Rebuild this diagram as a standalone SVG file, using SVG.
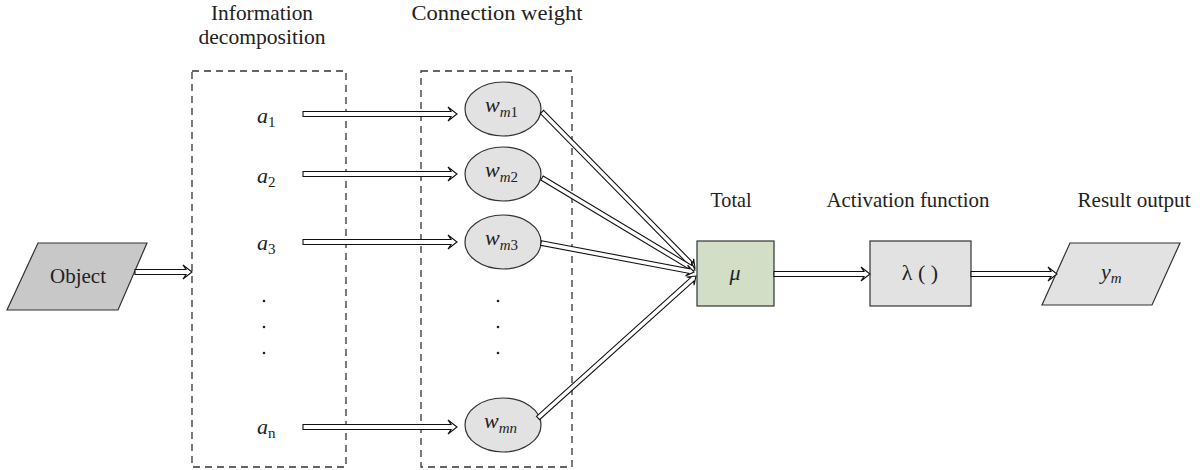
<svg xmlns="http://www.w3.org/2000/svg" width="1202" height="470" viewBox="0 0 1202 470">
<style>
.lbl{font-family:"Liberation Serif","Times New Roman",serif;font-size:21px;fill:#222;text-anchor:middle}
.var{font-family:"Liberation Serif","Times New Roman",serif;font-size:22px;fill:#222;font-style:italic}
.sub{font-size:15px}
.up{font-style:normal}
.dash{fill:none;stroke:#333;stroke-width:1.3;stroke-dasharray:7,5}
.ell{fill:#e2e2e2;stroke:#333;stroke-width:1.2}
.arr{fill:#fff;stroke:#111;stroke-width:1.1;stroke-linejoin:miter}
.dot{fill:#222}
</style>
<rect width="1202" height="470" fill="#fff"/>

<g id="labels">
<text class="lbl" x="262" y="20" textLength="102" lengthAdjust="spacingAndGlyphs">Information</text>
<text class="lbl" x="262" y="44" textLength="127" lengthAdjust="spacingAndGlyphs">decomposition</text>
<text class="lbl" x="497" y="20" textLength="171" lengthAdjust="spacingAndGlyphs">Connection weight</text>
<text class="lbl" x="731" y="207" textLength="41" lengthAdjust="spacingAndGlyphs">Total</text>
<text class="lbl" x="908" y="207" textLength="163" lengthAdjust="spacingAndGlyphs">Activation function</text>
<text class="lbl" x="1134" y="207" textLength="113" lengthAdjust="spacingAndGlyphs">Result output</text>
</g>

<g id="box-decomposition"><rect class="dash" x="192" y="71" width="154" height="396"/></g>
<g id="box-weight"><rect class="dash" x="421" y="71" width="151" height="396"/></g>

<g id="object">
<polygon points="38,243 147,243 118,310 7,310" fill="#c8c8c8" stroke="#333" stroke-width="1.2"/>
<text class="lbl" x="78" y="283" textLength="56" lengthAdjust="spacingAndGlyphs">Object</text>
</g>

<g id="inputs">
<text class="var" x="257" y="123">a<tspan class="sub up" dy="4">1</tspan></text>
<text class="var" x="257" y="183">a<tspan class="sub up" dy="4">2</tspan></text>
<text class="var" x="257" y="250">a<tspan class="sub up" dy="4">3</tspan></text>
<text class="var" x="257" y="434">a<tspan class="sub up" dy="4">n</tspan></text>
<circle class="dot" cx="264" cy="301" r="1.3"/>
<circle class="dot" cx="264" cy="327" r="1.3"/>
<circle class="dot" cx="264" cy="353" r="1.3"/>
</g>

<g id="w1"><ellipse class="ell" cx="503" cy="109" rx="38" ry="27"/><text class="var" x="485" y="112">w<tspan class="sub" dy="5">m</tspan><tspan class="sub up">1</tspan></text></g>
<g id="w2"><ellipse class="ell" cx="503" cy="174" rx="38" ry="27"/><text class="var" x="485" y="177">w<tspan class="sub" dy="5">m</tspan><tspan class="sub up">2</tspan></text></g>
<g id="w3"><ellipse class="ell" cx="503" cy="242" rx="38" ry="27"/><text class="var" x="485" y="245">w<tspan class="sub" dy="5">m</tspan><tspan class="sub up">3</tspan></text></g>
<g id="wdots">
<circle class="dot" cx="498" cy="301" r="1.3"/>
<circle class="dot" cx="498" cy="327" r="1.3"/>
<circle class="dot" cx="498" cy="353" r="1.3"/>
</g>
<g id="wn"><ellipse class="ell" cx="503" cy="425" rx="38" ry="27"/><text class="var" x="484" y="428">w<tspan class="sub" dy="5">mn</tspan></text></g>

<g id="total">
<rect x="697" y="241" width="77" height="65" fill="#d3dec6" stroke="#333" stroke-width="1.2"/>
<text class="var" x="735" y="280" text-anchor="middle">μ</text>
</g>

<g id="activation">
<rect x="870" y="241" width="101" height="65" fill="#e2e2e2" stroke="#333" stroke-width="1.2"/>
<text class="var" x="920" y="280" text-anchor="middle" style="font-style:normal">λ ( )</text>
</g>

<g id="output">
<polygon points="1070,243 1180,243 1152,305 1042,305" fill="#e2e2e2" stroke="#333" stroke-width="1.2"/>
<text class="var" x="1101" y="279">y<tspan class="sub" dy="4">m</tspan></text>
</g>

<g id="connectors">
<polygon class="arr" points="135,269.5 186,269.5 183,265 192,272 183,279 186,274.5 135,274.5"/>
<polygon class="arr" points="303,111.5 451,111.5 448,107 457,114 448,121 451,116.5 303,116.5"/>
<polygon class="arr" points="303,171.5 451,171.5 448,167 457,174 448,181 451,176.5 303,176.5"/>
<polygon class="arr" points="303,239.5 451,239.5 448,235 457,242 448,249 451,244.5 303,244.5"/>
<polygon class="arr" points="303,424.5 451,424.5 448,420 457,427 448,434 451,429.5 303,429.5"/>
<polygon class="arr" points="774,271.5 864,271.5 861,267 870,274 861,281 864,276.5 774,276.5"/>
<polygon class="arr" points="971,271.5 1051,271.5 1048,267 1057,274 1048,281 1051,276.5 971,276.5"/>
<g transform="translate(542,112) rotate(45.55)">
<polygon class="arr" points="0,-2.3 213.5,-2.3 211,-5.5 218.5,0 211,5.5 213.5,2.3 0,2.3"/>
</g>
<g transform="translate(542,178) rotate(31.02)">
<polygon class="arr" points="0,-2.3 173.5,-2.3 171,-5.5 178.5,0 171,5.5 173.5,2.3 0,2.3"/>
</g>
<g transform="translate(541,243) rotate(10.73)">
<polygon class="arr" points="0,-2.3 150.7,-2.3 148.2,-5.5 155.7,0 148.2,5.5 150.7,2.3 0,2.3"/>
</g>
<g transform="translate(538,418) rotate(-41.95)">
<polygon class="arr" points="0,-2.3 207.4,-2.3 204.9,-5.5 212.4,0 204.9,5.5 207.4,2.3 0,2.3"/>
</g>
</g>
</svg>
